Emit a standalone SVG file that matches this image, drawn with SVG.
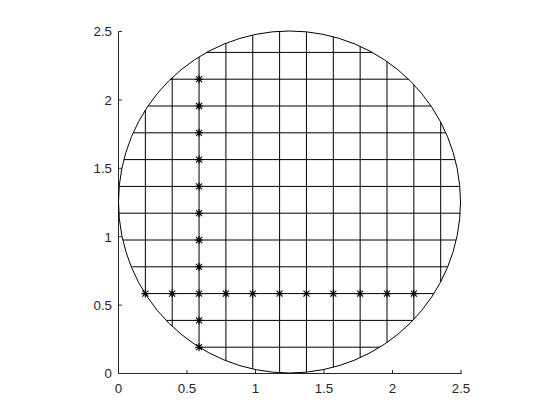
<svg xmlns="http://www.w3.org/2000/svg" width="560" height="420" viewBox="0 0 560 420">
<defs>
<style>
.g{stroke:#000;stroke-width:1;fill:none}
.ax{stroke:#262626;stroke-width:1;fill:none}
.t{font-family:"Liberation Sans",Arial,sans-serif;font-size:13.3px;fill:#262626}
.yl{text-anchor:end}
.xl{text-anchor:middle}
.m{stroke:#000;stroke-width:1.1;fill:none}
</style>
<g id="star"><path class="m" d="M-4,0H4M0,-4V4M-3,-3L3,3M-3,3L3,-3"/></g>
</defs>
<rect width="560" height="420" fill="#fff"/>
<g id="axes">
<path class="ax" d="M118.5,31.5V373.5H461.5"/>
<path class="ax" d="M187,373.5v-3.4M255.5,373.5v-3.4M324,373.5v-3.4M392.5,373.5v-3.4M461,373.5v-3.4M118.5,305.1h3.4M118.5,236.7h3.4M118.5,168.3h3.4M118.5,99.9h3.4M118.5,31.5h3.4"/>
<g class="t yl">
<text x="112" y="378.3">0</text>
<text x="112" y="309.9">0.5</text>
<text x="112" y="241.5">1</text>
<text x="112" y="173.1">1.5</text>
<text x="112" y="104.7">2</text>
<text x="112" y="36.3">2.5</text>
</g>
<g class="t xl">
<text x="118.5" y="392.5">0</text>
<text x="187" y="392.5">0.5</text>
<text x="255.5" y="392.5">1</text>
<text x="324" y="392.5">1.5</text>
<text x="392.5" y="392.5">2</text>
<text x="461" y="392.5">2.5</text>
</g>
</g>
<g id="circle"><circle class="g" cx="289.5" cy="202" r="171"/></g>
<g id="grid">
<path class="g" d="M145.35,110V294M172.2,77.6V326.4M199.05,56.9V347.1M225.9,43.3V360.7M252.75,35V369M279.6,31.3V372.7M306.45,31.8V372.2M333.3,36.7V367.3M360.15,46.3V357.7M387,61.5V342.5M413.85,84.6V319.4M440.7,122.1V281.9"/>
<path class="g" d="M199.2,347.2H379.8M166.1,320.4H412.9M145.1,293.6H433.9M131.3,266.8H447.7M122.8,240H456.2M118.9,213.2H460.1M119.2,186.4H459.8M123.8,159.6H455.2M133.1,132.8H445.9M148,106H431M170.5,79.2H408.5M206.7,52.4H372.3"/>
</g>
<g id="markers">
<use href="#star" x="199.05" y="347.2"/>
<use href="#star" x="199.05" y="320.4"/>
<use href="#star" x="199.05" y="266.8"/>
<use href="#star" x="199.05" y="240"/>
<use href="#star" x="199.05" y="213.2"/>
<use href="#star" x="199.05" y="186.4"/>
<use href="#star" x="199.05" y="159.6"/>
<use href="#star" x="199.05" y="132.8"/>
<use href="#star" x="199.05" y="106"/>
<use href="#star" x="199.05" y="79.2"/>
<use href="#star" x="145.35" y="293.6"/>
<use href="#star" x="172.2" y="293.6"/>
<use href="#star" x="199.05" y="293.6"/>
<use href="#star" x="225.9" y="293.6"/>
<use href="#star" x="252.75" y="293.6"/>
<use href="#star" x="279.6" y="293.6"/>
<use href="#star" x="306.45" y="293.6"/>
<use href="#star" x="333.3" y="293.6"/>
<use href="#star" x="360.15" y="293.6"/>
<use href="#star" x="387" y="293.6"/>
<use href="#star" x="413.85" y="293.6"/>
</g>
</svg>
